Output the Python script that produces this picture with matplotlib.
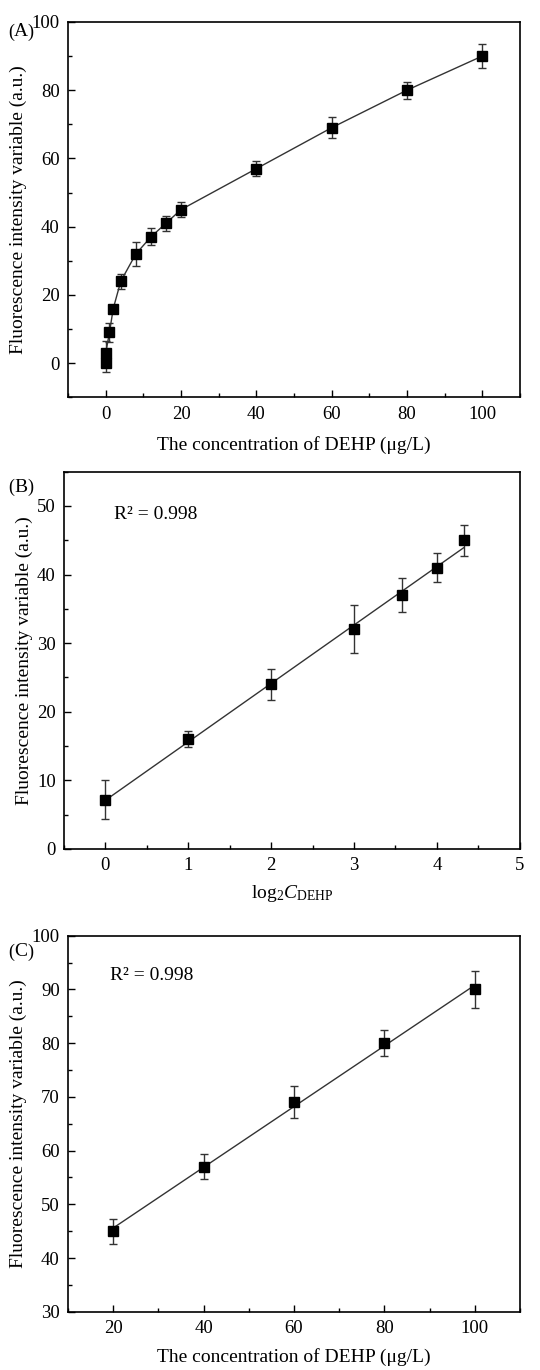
import matplotlib
matplotlib.use("Agg")
import matplotlib.pyplot as plt
import numpy as np
from matplotlib.ticker import MultipleLocator

plt.rcParams['font.family'] = ['Liberation Serif', 'Noto Sans CJK SC']
plt.rcParams['mathtext.fontset'] = 'custom'
plt.rcParams['mathtext.rm'] = 'Liberation Serif'
plt.rcParams['mathtext.it'] = 'Liberation Serif:italic'

# ---- data ----
conc_a = [0, 0, 1, 2, 4, 8, 12, 16, 20, 40, 60, 80, 100]
fi_a = [0, 3, 9, 16, 24, 32, 37, 41, 45, 57, 69, 80, 90]
err_a = [2.5, 3.5, 2.7, 1.0, 2.2, 3.4, 2.5, 2.2, 2.3, 2.2, 3.0, 2.5, 3.5]

log2c_b = [0, 1, 2, 3, 3.585, 4, 4.322]
fi_b = [7.2, 16, 24, 32, 37, 41, 45]
err_b = [2.9, 1.2, 2.3, 3.5, 2.5, 2.1, 2.3]

conc_c = [20, 40, 60, 80, 100]
fi_c = [45, 57, 69, 80, 90]
err_c = [2.3, 2.3, 3.0, 2.4, 3.4]

panel_letters = ["A", "B", "C"]
r2_text = "R\u00b2 = 0.998"
ylabel = "Fluorescence intensity variable (a.u.)"
xlabel_conc = "The concentration of DEHP (\u03bcg/L)"
xlabel_log = r"$\mathrm{log}_2C_\mathrm{DEHP}$"

W, H = 540, 1370
fig = plt.figure(figsize=(W / 100, H / 100), dpi=100)

LINE_C = '#333333'
TICK_FS = 13.5
LAB_FS = 14


def style(ax, xmaj, xmin, ymaj, ymin):
    ax.xaxis.set_major_locator(MultipleLocator(xmaj))
    ax.xaxis.set_minor_locator(MultipleLocator(xmin))
    ax.yaxis.set_major_locator(MultipleLocator(ymaj))
    ax.yaxis.set_minor_locator(MultipleLocator(ymin))
    ax.tick_params(which='both', direction='in', top=False, right=False,
                   labelsize=TICK_FS, width=1.0, pad=6)
    ax.tick_params(which='major', length=5)
    ax.tick_params(which='minor', length=3)
    for s in ax.spines.values():
        s.set_linewidth(1.2)


def markers(ax, x, y, e):
    ax.errorbar(x, y, yerr=e, fmt='s', color='black', ms=6.5,
                ecolor=LINE_C, elinewidth=1.0, capsize=3, capthick=1.0, zorder=3)


def panel_label(letter, ypx):
    # full-width style "（X）": parentheses spaced out around the letter
    yf = 1 - ypx / H
    fig.text(11 / W, yf, "(", fontsize=13, ha='center', va='center')
    fig.text(20.5 / W, yf, letter, fontsize=14, ha='center', va='center')
    fig.text(30 / W, yf, ")", fontsize=13, ha='center', va='center')


# ---- panel A ----
axA = fig.add_axes([0.126, 0.710, 0.837, 0.274])
axA.plot(conc_a, fi_a, '-', color=LINE_C, lw=1.0, zorder=2)
markers(axA, conc_a, fi_a, err_a)
axA.set_xlim(-10, 110)
axA.set_ylim(-10, 100)
style(axA, 20, 10, 20, 10)
axA.set_xlabel(xlabel_conc, fontsize=LAB_FS, labelpad=10)
axA.set_ylabel(ylabel, fontsize=LAB_FS, labelpad=3)
panel_label(panel_letters[0], 32)

# ---- panel B ----
axB = fig.add_axes([0.1185, 0.3803, 0.844, 0.2754])
kb, bb = np.polyfit(log2c_b, fi_b, 1)
xb = np.array([min(log2c_b), max(log2c_b)])
axB.plot(xb, kb * xb + bb, '-', color=LINE_C, lw=1.0, zorder=2)
markers(axB, log2c_b, fi_b, err_b)
axB.set_xlim(-0.5, 5)
axB.set_ylim(0, 55)
style(axB, 1, 0.5, 10, 5)
axB.set_xlabel(xlabel_log, fontsize=LAB_FS, labelpad=6)
axB.set_ylabel(ylabel, fontsize=LAB_FS, labelpad=3)
axB.text(0.11, 0.886, r2_text, transform=axB.transAxes, fontsize=14, va='center', ha='left')
panel_label(panel_letters[1], 487)

# ---- panel C ----
axC = fig.add_axes([0.126, 0.0425, 0.837, 0.2745])
kc, bc = np.polyfit(conc_c, fi_c, 1)
xc = np.array([min(conc_c), max(conc_c)])
axC.plot(xc, kc * xc + bc, '-', color=LINE_C, lw=1.0, zorder=2)
markers(axC, conc_c, fi_c, err_c)
axC.set_xlim(10, 110)
axC.set_ylim(30, 100)
style(axC, 20, 10, 10, 5)
axC.set_xlabel(xlabel_conc, fontsize=LAB_FS, labelpad=8)
axC.set_ylabel(ylabel, fontsize=LAB_FS, labelpad=3)
axC.text(0.093, 0.893, r2_text, transform=axC.transAxes, fontsize=14, va='center', ha='left')
panel_label(panel_letters[2], 952)

fig.savefig("out.png", dpi=100, facecolor='white')
